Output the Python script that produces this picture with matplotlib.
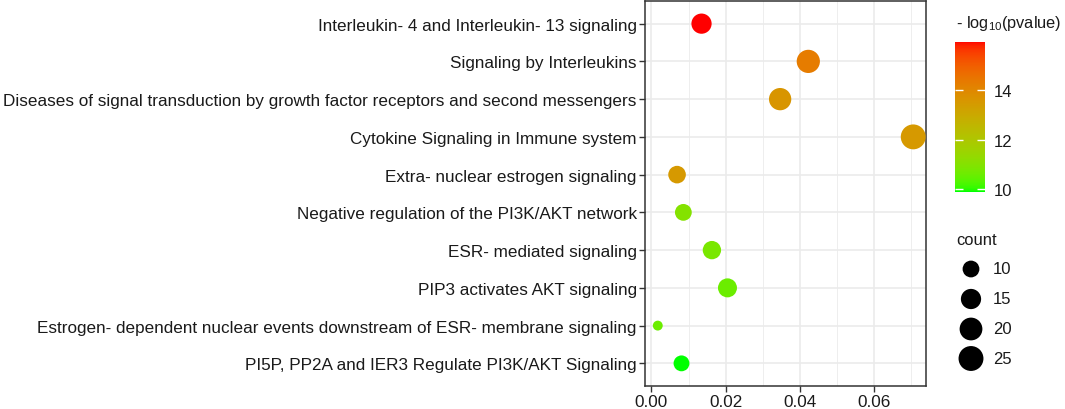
import numpy as np
import matplotlib
matplotlib.use("Agg")
import matplotlib.pyplot as plt
from matplotlib.colors import ListedColormap, Normalize
from matplotlib.cm import ScalarMappable

# pathways, top to bottom as drawn
pathways = [
    "Interleukin- 4 and Interleukin- 13 signaling",
    "Signaling by Interleukins",
    "Diseases of signal transduction by growth factor receptors and second messengers",
    "Cytokine Signaling in Immune system",
    "Extra- nuclear estrogen signaling",
    "Negative regulation of the PI3K/AKT network",
    "ESR- mediated signaling",
    "PIP3 activates AKT signaling",
    "Estrogen- dependent nuclear events downstream of ESR- membrane signaling",
    "PI5P, PP2A and IER3 Regulate PI3K/AKT Signaling",
]
gene_ratio = [0.0135, 0.0423, 0.0347, 0.0706, 0.0069, 0.0086, 0.0163, 0.0205, 0.0017, 0.0081]
neg_log_p = [15.97, 14.3, 13.6, 13.5, 13.5, 11.0, 10.8, 10.6, 10.6, 9.89]
counts = [15, 21, 19, 25, 11, 10, 12, 13, 6, 9]

x_ticks = [0.00, 0.02, 0.04, 0.06]
x_minor = [0.01, 0.03, 0.05, 0.07]
cbar_ticks = [10, 12, 14]
size_breaks = [10, 15, 20, 25]

W, H = 1065, 410
plt.rcParams["font.family"] = ["Liberation Sans", "DejaVu Sans"]
plt.rcParams["mathtext.fontset"] = "custom"
plt.rcParams["mathtext.rm"] = "Liberation Sans"
plt.rcParams["mathtext.default"] = "regular"


def srgb_to_lab(rgb):
    c = np.asarray(rgb, float)
    lin = np.where(c <= 0.04045, c / 12.92, ((c + 0.055) / 1.055) ** 2.4)
    m = np.array([[0.4124, 0.3576, 0.1805],
                  [0.2126, 0.7152, 0.0722],
                  [0.0193, 0.1192, 0.9505]])
    xyz = m @ lin / np.array([0.95047, 1.0, 1.08883])
    f = np.where(xyz > 0.008856, np.cbrt(xyz), 7.787 * xyz + 16 / 116)
    return np.array([116 * f[1] - 16, 500 * (f[0] - f[1]), 200 * (f[1] - f[2])])


def lab_to_srgb(lab):
    L, a, b = lab
    fy = (L + 16) / 116
    fx = fy + a / 500
    fz = fy - b / 200
    f = np.array([fx, fy, fz])
    xyz = np.where(f ** 3 > 0.008856, f ** 3, (f - 16 / 116) / 7.787)
    xyz = xyz * np.array([0.95047, 1.0, 1.08883])
    minv = np.array([[3.2406, -1.5372, -0.4986],
                     [-0.9689, 1.8758, 0.0415],
                     [0.0557, -0.2040, 1.0570]])
    lin = np.clip(minv @ xyz, 0, 1)
    c = np.where(lin <= 0.0031308, 12.92 * lin, 1.055 * lin ** (1 / 2.4) - 0.055)
    return np.clip(c, 0, 1)


# green -> red gradient interpolated in Lab, like ggplot
lab_lo = srgb_to_lab([0, 1, 0])
lab_hi = srgb_to_lab([1, 0, 0])
cmap = ListedColormap([lab_to_srgb(lab_lo + t * (lab_hi - lab_lo)) for t in np.linspace(0, 1, 256)])
norm = Normalize(vmin=min(neg_log_p), vmax=max(neg_log_p))

cmin, cmax = min(counts), max(counts)


def marker_area(c):
    d_px = 9.9 + 15.0 * np.sqrt((np.asarray(c, float) - cmin) / (cmax - cmin))
    return (d_px * 72 / 100) ** 2


fig = plt.figure(figsize=(W / 100, H / 100), dpi=100)
ax = fig.add_axes([645 / W, 1 - 387 / H, (926 - 645) / W, (387 - 2) / H])

ypos = np.arange(len(pathways))
ax.scatter(gene_ratio, ypos, s=marker_area(counts), c=neg_log_p, cmap=cmap, norm=norm,
           edgecolors="none", zorder=3)

lo, hi = min(gene_ratio), max(gene_ratio)
pad = 0.05 * (hi - lo)
ax.set_xlim(lo - pad, hi + pad)
ax.set_ylim(len(pathways) - 1 + 0.6, -0.6)

ax.set_xticks(x_ticks)
ax.set_xticklabels(["%.2f" % v for v in x_ticks])
ax.set_xticks(x_minor, minor=True)
ax.set_yticks(ypos)
ax.set_yticklabels(pathways)

ax.grid(which="major", color="#EBEBEB", lw=1.2, zorder=0)
ax.grid(which="minor", axis="x", color="#EBEBEB", lw=0.6, zorder=0)
ax.set_axisbelow(True)
for sp in ax.spines.values():
    sp.set_color("#333333")
    sp.set_linewidth(1.1)
ax.tick_params(which="major", length=4, width=1, color="#333333",
               labelsize=12.3, labelcolor="#1a1a1a", pad=2)
ax.tick_params(which="minor", length=0)

# colour bar
cax = fig.add_axes([955 / W, 1 - 192.7 / H, 30 / W, 150 / H])
sm = ScalarMappable(norm=norm, cmap=cmap)
cb = fig.colorbar(sm, cax=cax)
cb.outline.set_visible(False)
cb.set_ticks(cbar_ticks)
cax.tick_params(direction="in", color="white", length=6, width=1, left=True, right=True,
                labelsize=12, labelcolor="#1a1a1a", pad=6)
fig.text(956 / W, 1 - 28 / H, "- log$_{10}$(pvalue)", fontsize=11.8, color="#1a1a1a", va="baseline")

# size legend
fig.text(956 / W, 1 - 245 / H, "count", fontsize=11.9, color="#1a1a1a", va="baseline")
lax = fig.add_axes([0, 0, 1, 1])
lax.set_xlim(0, W)
lax.set_ylim(H, 0)
lax.axis("off")
key_y = [270, 300, 330, 359.5]
lax.scatter([971] * len(size_breaks), key_y, s=marker_area(size_breaks), c="black", edgecolors="none")
for yk, v in zip(key_y, size_breaks):
    lax.text(993, yk, str(v), fontsize=12, color="#1a1a1a", va="center", ha="left")

fig.savefig("out.png", dpi=100)
